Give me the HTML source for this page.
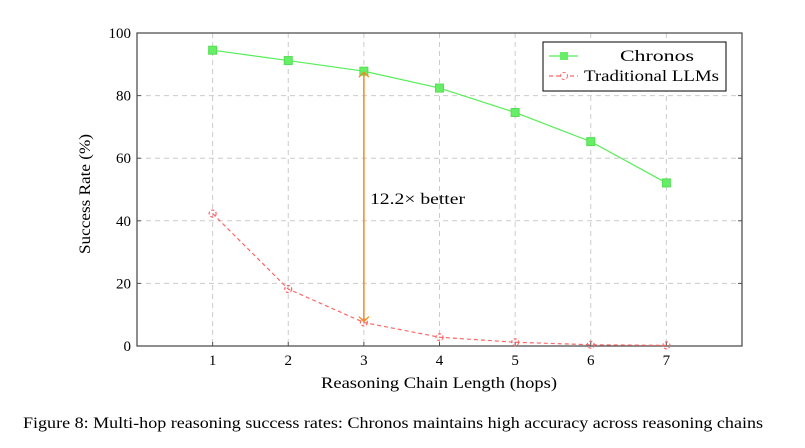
<!DOCTYPE html>
<html><head><meta charset="utf-8"><style>
body{margin:0;background:#fff;width:805px;height:443px;overflow:hidden}
text{font-family:"Liberation Serif",serif;fill:#000}
</style></head><body>
<svg id="c" width="805" height="443">
</svg>
<script>
const xCats=[1,2,3,4,5,6,7];
const chronos=[94.5,91.2,87.8,82.4,74.6,65.3,52.1];
const trad=[42.3,18.2,7.5,2.8,1.2,0.4,0.2];
const yTicks=[0,20,40,60,80,100];
const ns="http://www.w3.org/2000/svg";
const svg=document.getElementById('c');
const X0=137,X1=742,Y0=346,Y1=33;
const xs=v=>X0+(v/8)*(X1-X0);
const ys=v=>Y0-(v/100)*(Y0-Y1);
function el(t,a,p){const e=document.createElementNS(ns,t);for(const k in a)e.setAttribute(k,a[k]);(p||svg).appendChild(e);return e;}
xCats.forEach(c=>{const g=el('line',{x1:xs(c),x2:xs(c),y1:Y1,y2:Y0,stroke:'#ccc','stroke-dasharray':'5,4'});


const t=el('text',{x:xs(c),y:Y0+19,'text-anchor':'middle','font-size':15});t.textContent=c;


el('line',{x1:xs(c),x2:xs(c),y1:Y0,y2:Y0-4,stroke:'#555'});});
yTicks.forEach(v=>{if(v>0&&v<100){const g=el('line',{x1:X0,x2:X1,y1:ys(v),y2:ys(v),stroke:'#ccc','stroke-dasharray':'5,4'});

}
const t=el('text',{x:X0-6,y:ys(v)+5,'text-anchor':'end','font-size':15});t.textContent=v;


el('line',{x1:X0,x2:X0+4,y1:ys(v),y2:ys(v),stroke:'#555'});el('line',{x1:X1,x2:X1-4,y1:ys(v),y2:ys(v),stroke:'#555'});});
const fr=el('rect',{x:X0,y:Y1,width:X1-X0,height:Y0-Y1,fill:'none',stroke:'#444','stroke-width':1.2});


const rp=el('polyline',{points:trad.map((v,i)=>xs(xCats[i])+','+ys(v)).join(' '),fill:'none',stroke:'#ff6666','stroke-width':1.2,'stroke-dasharray':'4,3'});


trad.forEach((v,i)=>{const m=el('circle',{cx:xs(xCats[i]),cy:ys(v),r:3.5,fill:'none',stroke:'#ff6666','stroke-width':1.2,'stroke-dasharray':'3,2'});

});
const gp=el('polyline',{points:chronos.map((v,i)=>xs(xCats[i])+','+ys(v)).join(' '),fill:'none',stroke:'#55ee55','stroke-width':1.2});


chronos.forEach((v,i)=>{const m=el('rect',{x:xs(xCats[i])-4,y:ys(v)-4,width:8,height:8,fill:'#66ee66',stroke:'#55dd55'});

});
const ax=xs(3);
const ar=el('line',{x1:ax,x2:ax,y1:ys(chronos[2])+2,y2:ys(trad[2])-2,stroke:'#f08c20','stroke-width':1.5});


el('path',{d:`M${ax-5},${ys(chronos[2])+6} L${ax},${ys(chronos[2])+1} L${ax+5},${ys(chronos[2])+6}`,fill:'none',stroke:'#f08c20','stroke-width':1.3});
el('path',{d:`M${ax-5},${ys(trad[2])-6} L${ax},${ys(trad[2])-1} L${ax+5},${ys(trad[2])-6}`,fill:'none',stroke:'#f08c20','stroke-width':1.3});
const an=el('text',{x:370,y:204,'font-size':16,textLength:95,lengthAdjust:'spacingAndGlyphs'});an.textContent='12.2× better';


</script>
<svg width="805" height="443" style="position:absolute;left:0;top:0">
<g>
<rect x="543" y="42" width="183" height="49" fill="#fff" stroke="#000" stroke-width="1"/>
<line x1="549" y1="56" x2="578" y2="56" stroke="#55ee55" stroke-width="1.2"/>
<rect x="560" y="52" width="8" height="8" fill="#66ee66"/>
<text x="620" y="61" font-size="16" textLength="74" lengthAdjust="spacingAndGlyphs">Chronos</text>
<line x1="549" y1="76" x2="578" y2="76" stroke="#ff6666" stroke-width="1.2" stroke-dasharray="4,3"/>
<circle cx="564" cy="76" r="3.5" fill="#fff" stroke="#ff6666" stroke-dasharray="3,2"/>
<text x="584" y="81" font-size="16" textLength="135" lengthAdjust="spacingAndGlyphs">Traditional LLMs</text>
</g>
<text x="321" y="388" font-size="16" textLength="236" lengthAdjust="spacingAndGlyphs">Reasoning Chain Length (hops)</text>
<text transform="translate(90,254) rotate(-90)" font-size="16" textLength="120" lengthAdjust="spacingAndGlyphs">Success Rate (%)</text>
<text x="23" y="428" font-size="16" textLength="740" lengthAdjust="spacingAndGlyphs">Figure 8: Multi-hop reasoning success rates: Chronos maintains high accuracy across reasoning chains</text>
</svg>
</body></html>
